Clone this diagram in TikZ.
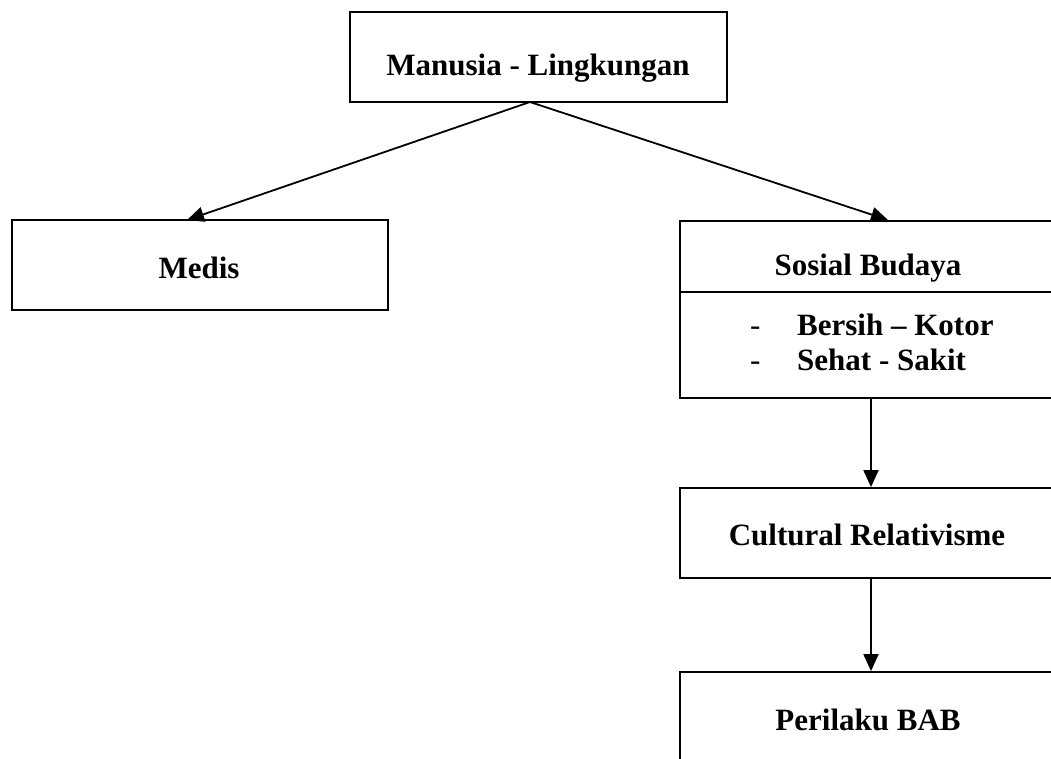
\documentclass[tikz,border=0pt]{standalone}
\usepackage{fontspec}
\setmainfont{Liberation Serif}
\usetikzlibrary{arrows.meta}
\begin{document}
\begin{tikzpicture}[x=1pt,y=-1pt,
  box/.style={draw, line width=1.8pt, inner sep=0pt, minimum width=380pt},
  lbl/.style={font=\fontsize{31}{35}\selectfont\bfseries, anchor=base, inner sep=0pt},
  arr/.style={line width=1.8pt, -{Triangle[length=17pt,width=15pt]}}]
\useasboundingbox (0,0) rectangle (1051,758);
\clip (0,0) rectangle (1051,758);
% boxes
\node[box, minimum width=377pt, minimum height=90pt] (top) at (538.5,57) {};
\node[box, minimum width=376pt, minimum height=90pt] (medis) at (200,265) {};
\node[box, minimum width=382pt, minimum height=71pt] (sosA) at (871,256.5) {};
\node[box, minimum width=382pt, minimum height=106pt] (sosB) at (871,345) {};
\node[box, minimum width=382pt, minimum height=90pt] (cult) at (871,533) {};
\node[box, minimum width=382pt, minimum height=90pt] (peri) at (871,717) {};
% labels
\node[lbl] (tTop) at (538,75) {Manusia - Lingkungan};
\node[lbl] (tMed) at (199,278) {Medis};
\node[lbl] (tSos) at (868,275) {Sosial Budaya};
\node[lbl, anchor=base west] (d1) at (750,335) {\mdseries -};
\node[lbl, anchor=base west] (b1) at (797,335) {Bersih – Kotor};
\node[lbl, anchor=base west] (d2) at (750,370) {\mdseries -};
\node[lbl, anchor=base west] (b2) at (797,370) {Sehat - Sakit};
\node[lbl] (tCul) at (867,545) {Cultural Relativisme};
\node[lbl] (tPer) at (868,730) {Perilaku BAB};
% connectors
\coordinate (apex) at (530,102);
\coordinate (medisIn) at (187,220);
\coordinate (sosIn) at (888,220);
\draw[arr] (apex) -- (medisIn);
\draw[arr] (apex) -- (sosIn);
\draw[arr] (sosB.south) -- (cult.north);
\draw[arr] (cult.south) -- (peri.north);
\end{tikzpicture}
\end{document}
